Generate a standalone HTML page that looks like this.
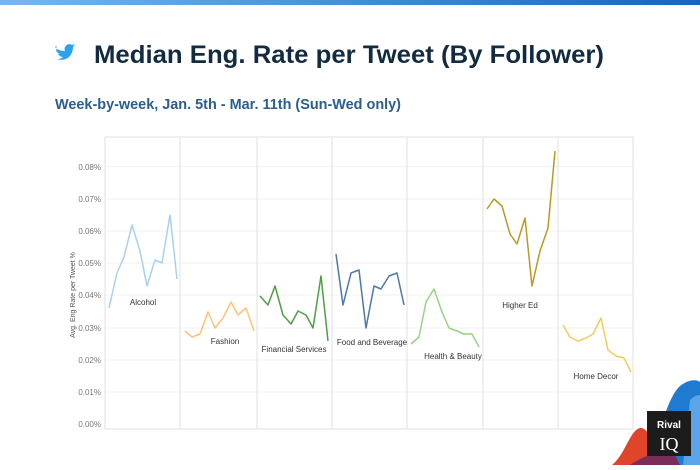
<!DOCTYPE html><html><head><style>body{margin:0;width:700px;height:465px;overflow:hidden;background:#fff;font-family:"Liberation Sans",sans-serif}</style></head><body>
<svg width="700" height="465" viewBox="0 0 700 465" xmlns="http://www.w3.org/2000/svg">
<defs><linearGradient id="g" x1="0" x2="1"><stop offset="0" stop-color="#7ab6ea"/><stop offset="1" stop-color="#1565c0"/></linearGradient></defs>
<rect x="0" y="0" width="700" height="5" fill="url(#g)"/>
<path d="M55 47c3 3 6 4 10 4-2-4 3-9 7-6l3-1-2 2 2-1-2 2c0 9-7 15-16 12 3 0 5-1 6-2-3 0-4-2-5-3h2c-3-1-4-3-4-5l2 1c-2-2-2-4-1-5z" fill="#2aa3ef"/>
<text x="94" y="63" font-size="25" font-weight="bold" fill="#122b40" textLength="510" lengthAdjust="spacingAndGlyphs">Median Eng. Rate per Tweet (By Follower)</text>
<text x="55" y="109" font-size="14.5" font-weight="bold" fill="#2a5d8f" textLength="346" lengthAdjust="spacingAndGlyphs">Week-by-week, Jan. 5th - Mar. 11th (Sun-Wed only)</text>
<g stroke="#f2f2f2" stroke-width="1">
<line x1="105" x2="633" y1="166.8" y2="166.8"/><line x1="105" x2="633" y1="199" y2="199"/><line x1="105" x2="633" y1="231" y2="231"/><line x1="105" x2="633" y1="263" y2="263"/><line x1="105" x2="633" y1="295" y2="295"/><line x1="105" x2="633" y1="328" y2="328"/><line x1="105" x2="633" y1="360" y2="360"/><line x1="105" x2="633" y1="392" y2="392"/>
</g>
<g stroke="#e0e0e0" stroke-width="1"><line x1="105" x2="633" y1="137" y2="137"/><line x1="105" x2="633" y1="429" y2="429"/><line x1="105" x2="105" y1="137" y2="429"/><line x1="180" x2="180" y1="137" y2="429"/><line x1="257" x2="257" y1="137" y2="429"/><line x1="332" x2="332" y1="137" y2="429"/><line x1="407" x2="407" y1="137" y2="429"/><line x1="483" x2="483" y1="137" y2="429"/><line x1="558" x2="558" y1="137" y2="429"/><line x1="633" x2="633" y1="137" y2="429"/></g>
<g font-size="8" fill="#777" text-anchor="end">
<text x="101" y="170">0.08%</text><text x="101" y="202">0.07%</text><text x="101" y="234">0.06%</text><text x="101" y="266">0.05%</text><text x="101" y="298">0.04%</text><text x="101" y="331">0.03%</text><text x="101" y="363">0.02%</text><text x="101" y="395">0.01%</text><text x="101" y="427">0.00%</text></g>
<text transform="translate(75,295) rotate(-90)" font-size="7" fill="#555" text-anchor="middle">Avg. Eng Rate per Tweet %</text>
<g fill="none" stroke-width="1.5" stroke-linejoin="round">
<polyline stroke="#a9d0ee" points="109,308 117,273 124,257 132,225 140,251 147,286 155,260 162,263 170,215 177,279"/>
<polyline stroke="#fdc27a" points="185,331 192,337 200,334 208,312 215,328 223,318 231,302 238,315 246,308 254,331"/>
<polyline stroke="#4c9f45" points="260,296 268,305 275,286 283,315 291,324 298,311 306,315 313,328 321,276 328,341"/>
<polyline stroke="#4f77a8" points="336,254 343,305 351,273 359,270 366,328 374,286 381,289 389,276 397,273 404,305"/>
<polyline stroke="#94d483" points="411,344 419,337 426,302 434,289 442,312 449,328 457,331 464,334 472,334 479,347"/>
<polyline stroke="#b99a25" points="487,209 494,199 502,206 510,234 517,244 525,218 532,286 540,251 548,228 555,151"/>
<polyline stroke="#f3cc5a" points="563,325 570,337 578,341 586,338 593,334 601,318 608,350 616,356 624,358 631,372"/>
</g>
<g font-size="8" fill="#333" text-anchor="middle">
<text x="143" y="305">Alcohol</text><text x="225" y="344">Fashion</text><text x="294" y="352">Financial Services</text><text x="372" y="345">Food and Beverage</text><text x="453" y="359">Health &amp; Beauty</text><text x="520" y="308">Higher Ed</text><text x="596" y="379">Home Decor</text></g>
<path d="M612 465 C625 455 630 430 640 428 C648 427 652 440 660 465Z" fill="#e0442a"/>
<path d="M645 465 C660 440 665 400 680 386 C690 378 698 380 700 382 L700 465Z" fill="#1f7bd0"/>
<path d="M630 465 C645 455 660 450 675 455 L680 465Z" fill="#7a2c5a"/>
<path d="M690 400 C695 395 700 395 700 395 L700 465 L683 465Z" fill="#5aa5e8"/>
<rect x="647" y="411" width="44" height="45" fill="#1c1c1c"/>
<text x="669" y="428" font-size="10" font-weight="bold" fill="#fff" text-anchor="middle">Rival</text>
<text x="669" y="450" font-size="18" fill="#fff" text-anchor="middle" font-family="Liberation Serif">IQ</text>
</svg></body></html>
